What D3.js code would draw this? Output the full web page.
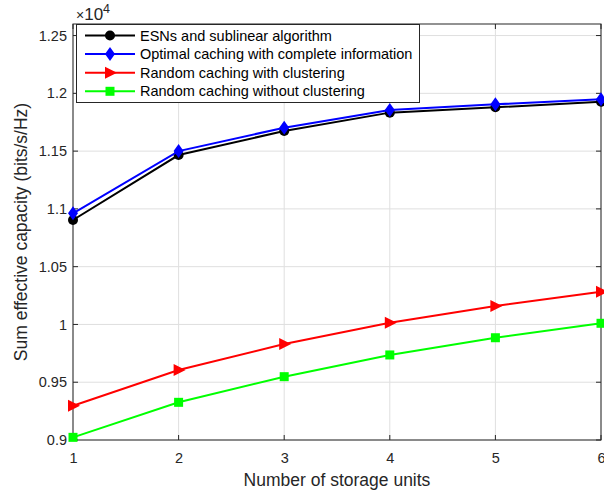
<!DOCTYPE html>
<html><head><meta charset="utf-8">
<script src="https://cdn.jsdelivr.net/npm/d3@7"></script>
<style>body{margin:0;background:#fff;} svg{display:block;font-family:"Liberation Sans",Arial,sans-serif;}</style>
</head><body>
<svg id="c" width="604" height="493"></svg>
<script>
const xValues = [1, 2, 3, 4, 5, 6];
const esn = [1.0904, 1.1466, 1.1674, 1.1833, 1.1879, 1.1928];
const optimal = [1.0962, 1.1500, 1.1703, 1.1856, 1.1905, 1.1948];
const randomClustering = [0.9297, 0.9606, 0.9831, 1.0015, 1.0160, 1.0283];
const randomNoClustering = [0.9023, 0.9326, 0.9548, 0.9736, 0.9885, 1.0010];
const yTicks = [0.9, 0.95, 1, 1.05, 1.1, 1.15, 1.2, 1.25];
const yTickLabels = ["0.9", "0.95", "1", "1.05", "1.1", "1.15", "1.2", "1.25"];
const seriesNames = ["ESNs and sublinear algorithm", "Optimal caching with complete information", "Random caching with clustering", "Random caching without clustering"];
const seriesColors = ["#000000", "#0000ff", "#ff0000", "#00ff00"];
const seriesMarkers = ["circle", "diamond", "triangle", "square"];
const seriesData = [esn, optimal, randomClustering, randomNoClustering];

const svg = d3.select("#c");
const L = 73, R = 601, T = 24, B = 440;
const x = d3.scaleLinear().domain([1, 6]).range([L, R]);
const y = d3.scaleLinear().domain([0.9, 1.26]).range([B, T]);
const axCol = "#262626";

// grid
const g = svg.append("g");
g.selectAll(".vg").data(xValues).enter().append("line")
  .attr("x1", d => x(d)).attr("x2", d => x(d)).attr("y1", T).attr("y2", B)
  .attr("stroke", "#dfdfdf").attr("stroke-width", 1);
g.selectAll(".hg").data(yTicks).enter().append("line")
  .attr("x1", L).attr("x2", R).attr("y1", d => y(d)).attr("y2", d => y(d))
  .attr("stroke", "#dfdfdf").attr("stroke-width", 1);

// axes
const xAxis = d3.axisBottom(x).tickValues(xValues).tickSize(0).tickPadding(0).tickFormat(d3.format("d"));
const xa = svg.append("g").attr("transform", `translate(0,${B})`).call(xAxis);
xa.select(".domain").remove();
xa.selectAll("text").attr("fill", axCol).attr("font-size", 14.5).attr("dy", null).attr("y", 22.5);
const yAxis = d3.axisLeft(y).tickValues(yTicks).tickSize(0).tickPadding(6).tickFormat((d, i) => yTickLabels[i]);
const ya = svg.append("g").attr("transform", `translate(${L},0)`).call(yAxis);
ya.select(".domain").remove();
ya.selectAll("text").attr("fill", axCol).attr("font-size", 14.5);

// ticks inward on all sides
const tk = svg.append("g").attr("stroke", axCol).attr("stroke-width", 1);
xValues.forEach(v => {
  tk.append("line").attr("x1", x(v)).attr("x2", x(v)).attr("y1", B).attr("y2", B - 5);
  tk.append("line").attr("x1", x(v)).attr("x2", x(v)).attr("y1", T).attr("y2", T + 5);
});
yTicks.forEach(v => {
  tk.append("line").attr("x1", L).attr("x2", L + 5).attr("y1", y(v)).attr("y2", y(v));
  tk.append("line").attr("x1", R).attr("x2", R - 5).attr("y1", y(v)).attr("y2", y(v));
});
svg.append("rect").attr("x", L).attr("y", T).attr("width", R - L).attr("height", B - T)
  .attr("fill", "none").attr("stroke", axCol).attr("stroke-width", 1);

// exponent
const ex = svg.append("text").attr("x", 76).attr("y", 20).attr("fill", axCol);
ex.append("tspan").attr("font-size", 14).text("\u00d7");
ex.append("tspan").attr("font-size", 17).text("10");
ex.append("tspan").attr("font-size", 12.5).attr("dy", -7).text("4");

// labels
svg.append("text").attr("x", (L + R) / 2).attr("y", 486).attr("text-anchor", "middle")
  .attr("fill", axCol).attr("font-size", 17.5).text("Number of storage units");
svg.append("text").attr("transform", `translate(27,${(T + B) / 2}) rotate(-90)`).attr("text-anchor", "middle")
  .attr("fill", axCol).attr("font-size", 17.5).text("Sum effective capacity (bits/s/Hz)");

function marker(sel, type, color) {
  if (type === "circle") sel.append("circle").attr("r", 5).attr("fill", color);
  else if (type === "diamond") sel.append("path").attr("d", "M0,-7L5,0L0,7L-5,0Z").attr("fill", color);
  else if (type === "triangle") sel.append("path").attr("d", "M-5,-6L7,0L-5,6Z").attr("fill", color);
  else sel.append("rect").attr("x", -4.5).attr("y", -4.5).attr("width", 9).attr("height", 9).attr("fill", color);
}

const line = d3.line().x((d, i) => x(xValues[i])).y(d => y(d));
seriesData.forEach((data, s) => {
  svg.append("path").datum(data).attr("d", line).attr("fill", "none")
    .attr("stroke", seriesColors[s]).attr("stroke-width", 2);
  data.forEach((v, i) => {
    const m = svg.append("g").attr("transform", `translate(${x(xValues[i])},${y(v)})`);
    marker(m, seriesMarkers[s], seriesColors[s]);
  });
});

// legend
const lg = svg.append("g");
lg.append("rect").attr("x", 76.5).attr("y", 24.5).attr("width", 343).attr("height", 78)
  .attr("fill", "#fff").attr("stroke", axCol).attr("stroke-width", 1);
seriesNames.forEach((name, s) => {
  const yy = 35.5 + s * 18.6;
  lg.append("line").attr("x1", 85).attr("x2", 135).attr("y1", yy).attr("y2", yy)
    .attr("stroke", seriesColors[s]).attr("stroke-width", 2);
  const m = lg.append("g").attr("transform", `translate(110,${yy})`);
  marker(m, seriesMarkers[s], seriesColors[s]);
  lg.append("text").attr("x", 140).attr("y", yy + 5).attr("font-size", 14.5).attr("fill", "#000").text(name);
});
</script>
</body></html>
